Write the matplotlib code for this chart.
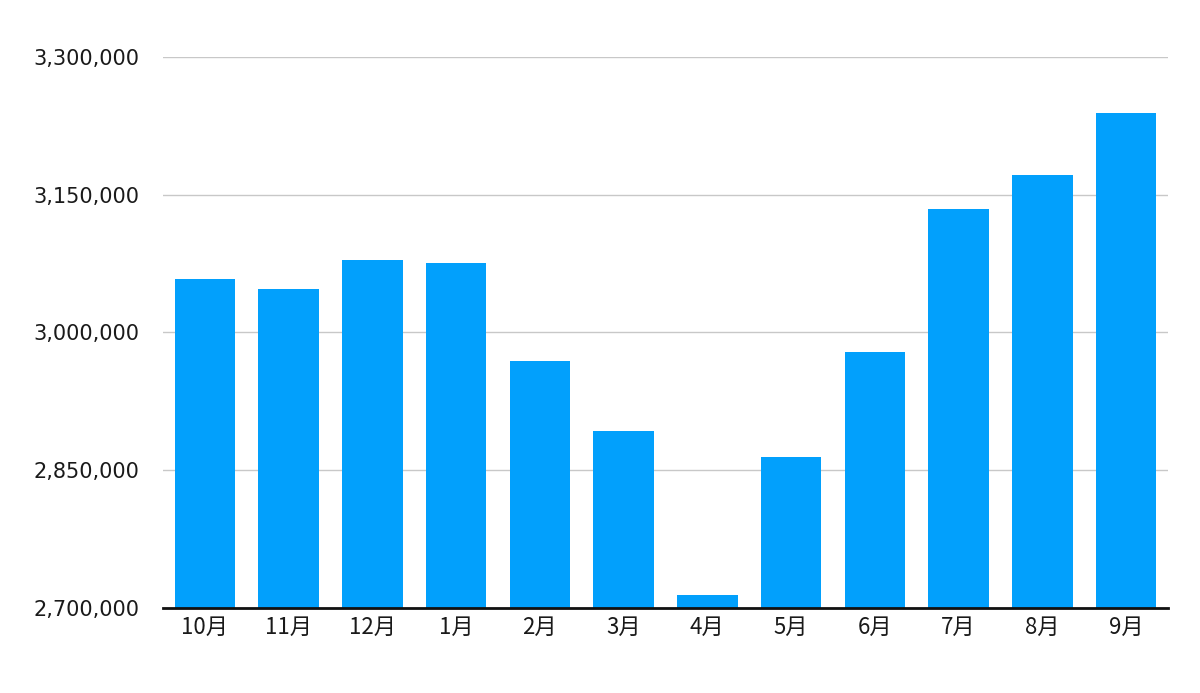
import matplotlib
matplotlib.use("Agg")
import matplotlib.pyplot as plt
from matplotlib.ticker import FuncFormatter

plt.rcParams['font.family'] = ['Noto Sans CJK JP', 'DejaVu Sans']

months = ['10月', '11月', '12月', '1月', '2月', '3月', '4月', '5月', '6月', '7月', '8月', '9月']
values = [3058000, 3047000, 3079000, 3075000, 2969000, 2892000,
          2714000, 2864000, 2979000, 3134000, 3171000, 3239000]
yticks = [2700000, 2850000, 3000000, 3150000, 3300000]

fig = plt.figure(figsize=(12, 6.93), dpi=100)
ax = fig.add_axes([163/1200, 85.5/693, 1005/1200, 550.5/693])

x = list(range(len(months)))
ax.bar(x, [v - yticks[0] for v in values], bottom=yticks[0], width=0.72,
       color='#02A0FC', zorder=3)

ax.set_xlim(-0.5, len(months) - 0.5)
ax.set_ylim(yticks[0], yticks[-1])
ax.set_yticks(yticks)
ax.yaxis.set_major_formatter(FuncFormatter(lambda v, p: f"{int(v):,}"))
ax.set_xticks(x)
ax.set_xticklabels(months)

ax.grid(axis='y', color='#C8C8C8', linewidth=1, zorder=0)
for s in ['top', 'right', 'left']:
    ax.spines[s].set_visible(False)
ax.spines['bottom'].set_color('#111111')
ax.spines['bottom'].set_linewidth(2)
ax.spines['bottom'].set_zorder(4)

ax.tick_params(axis='y', length=0, pad=17, labelsize=15, labelcolor='#1a1a1a')
ax.tick_params(axis='x', length=0, pad=6, labelsize=16, labelcolor='#1a1a1a')
for lab in ax.get_yticklabels():
    lab.set_fontfamily(['DejaVu Sans'])

fig.savefig('out.png', dpi=100)
